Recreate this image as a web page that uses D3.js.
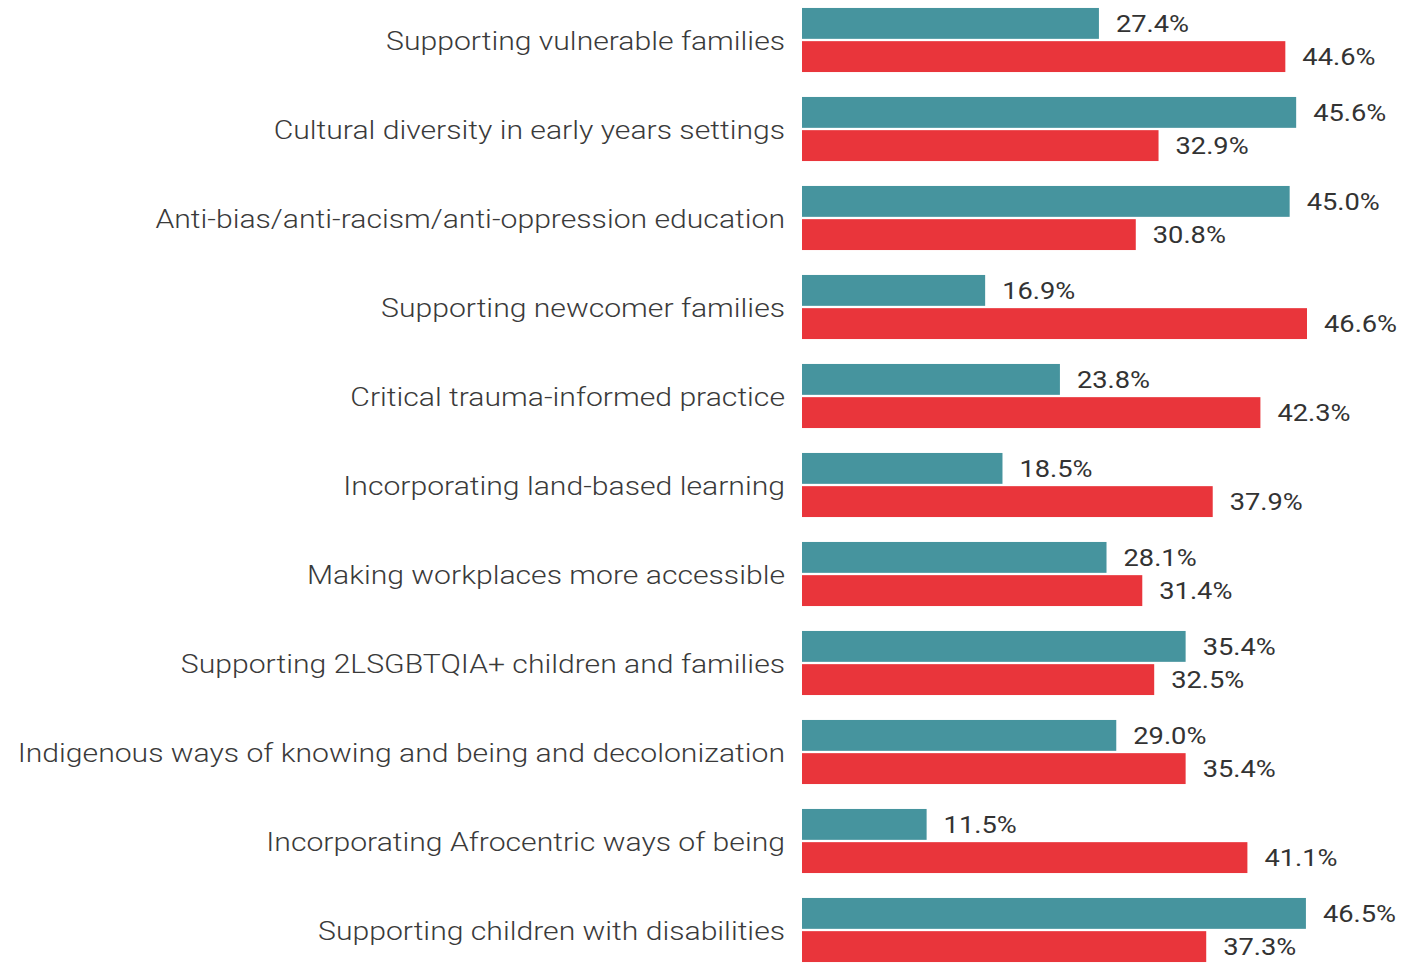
<!DOCTYPE html>
<html>
<head>
<meta charset="utf-8">
<script src="https://cdn.jsdelivr.net/npm/d3@7"></script>
<style>
  body { margin: 0; background: #fff; }
  svg { display: block; }
</style>
</head>
<body>
<svg id="chart" width="1422" height="963"></svg>
<script>
// categories, top to bottom
var categories = [
  "Supporting vulnerable families",
  "Cultural diversity in early years settings",
  "Anti-bias/anti-racism/anti-oppression education",
  "Supporting newcomer families",
  "Critical trauma-informed practice",
  "Incorporating land-based learning",
  "Making workplaces more accessible",
  "Supporting 2LSGBTQIA+ children and families",
  "Indigenous ways of knowing and being and decolonization",
  "Incorporating Afrocentric ways of being",
  "Supporting children with disabilities"
];
var series = ["teal", "red"];
var tealValues = [27.4, 45.6, 45.0, 16.9, 23.8, 18.5, 28.1, 35.4, 29.0, 11.5, 46.5];
var redValues  = [44.6, 32.9, 30.8, 46.6, 42.3, 37.9, 31.4, 32.5, 35.4, 41.1, 37.3];
var colors = { teal: "#46949e", red: "#e9353b" };

var svg = d3.select("#chart");

var x = d3.scaleLinear().domain([0, 46.6]).range([802, 1307]);

var y = d3.scaleBand()
    .domain(categories)
    .range([-4.5, 974.5])
    .paddingInner(0.28)
    .paddingOuter(0.14);

var ySub = d3.scaleBand()
    .domain(series)
    .range([0, y.bandwidth()])
    .paddingInner(0.07);

// the text in the picture is a bit wider than plain Roboto
var stretch = 1.16;

var rows = categories.map(function(c, i) {
  return { cat: c, teal: tealValues[i], red: redValues[i] };
});

var g = svg.selectAll("g.row")
    .data(rows)
    .enter()
    .append("g")
    .attr("class", "row")
    .attr("transform", function(d) { return "translate(0," + y(d.cat) + ")"; });

// category labels
g.append("text")
    .attr("transform", "translate(785," + (y.bandwidth() / 2 + 1) + ") scale(" + stretch + ",1)")
    .attr("dy", "0.36em")
    .attr("text-anchor", "end")
    .style("font-family", "Roboto, sans-serif")
    .style("font-weight", 300)
    .style("font-size", "26px")
    .style("fill", "#3a3a3a")
    .text(function(d) { return d.cat; });

series.forEach(function(s) {
  g.append("rect")
      .attr("x", x(0))
      .attr("y", ySub(s))
      .attr("width", function(d) { return x(d[s]) - x(0); })
      .attr("height", ySub.bandwidth())
      .attr("fill", colors[s]);

  g.append("text")
      .attr("transform", function(d) {
        return "translate(" + (x(d[s]) + 17) + "," + (ySub(s) + ySub.bandwidth() / 2) + ") scale(" + stretch + ",1)";
      })
      .attr("dy", "0.36em")
      .style("font-family", "Roboto, sans-serif")
      .style("font-size", "23.5px")
      .style("fill", "#333")
      .text(function(d) { return d[s].toFixed(1) + "%"; });
});
</script>
</body>
</html>
